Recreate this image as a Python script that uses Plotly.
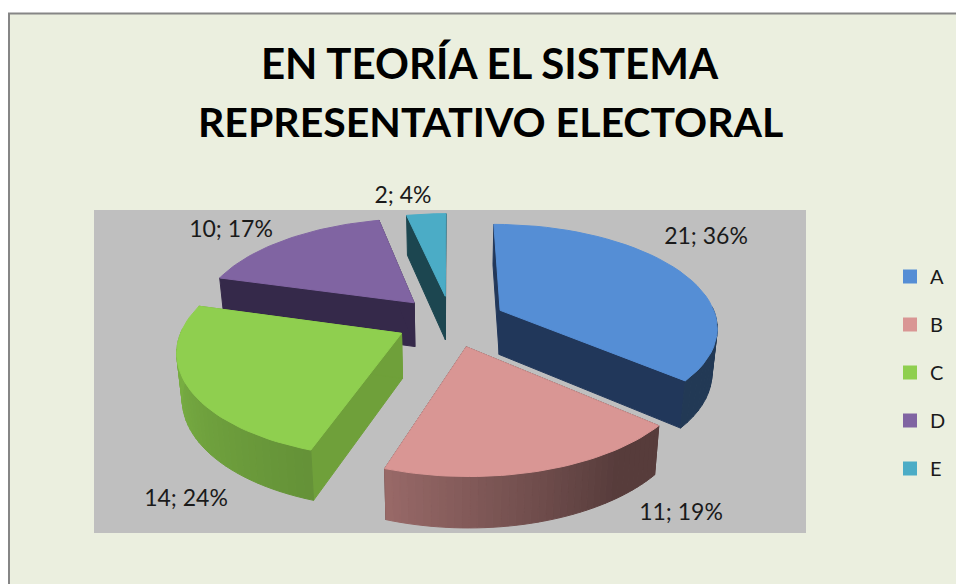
import numpy as np
import plotly.graph_objects as go

# ---- data ----
CATEGORIES = ["A", "B", "C", "D", "E"]
VALUES = [21, 11, 14, 10, 2]
PERCENT_LABELS = [36, 19, 24, 17, 4]
TITLE_LINES = ["EN TEORÍA EL SISTEMA", "REPRESENTATIVO ELECTORAL"]

# ---- styling ----
TOP_COLORS = ["#558ED5", "#D99694", "#8FCF4F", "#8064A2", "#4BACC6"]
CUT_COLORS = ["#21375A", "#5A3C3C", "#6FA03A", "#35294A", "#1C4650"]
LABEL_X = [706, 681, 186, 231, 403]
LABEL_Y = [238, 514, 500, 231, 197]
DRAW_ORDER = [4, 3, 0, 2, 1]

FIG_W, FIG_H = 956, 584

# projection of the exploded pie on to the page
VX, Y0 = 451.0, 321.0
RADIUS, EXPLODE = 217.0, 55.0
K, TILT = 0.148, 0.469
FONT = "Lato"


def project(wx, wy):
    s = 1.0 / (1.0 - K * wy / 215.0)
    return VX + wx * s, Y0 + TILT * wy * s


def to_bottom(x, y):
    return VX + (x - VX) * 0.98, y + 40 + 0.044 * (y - 217)


def shade(hex_color, f):
    r, g, b = [int(hex_color[i:i + 2], 16) for i in (1, 3, 5)]
    return f"rgb({r * f:.0f},{g * f:.0f},{b * f:.0f})"


def poly(xs, ys, color):
    return go.Scatter(x=list(xs), y=list(ys), mode="lines", fill="toself", fillcolor=color,
                      line=dict(color=color, width=1.0), hoverinfo="skip", showlegend=False)


fractions = np.array(VALUES) / sum(VALUES)
ends = np.cumsum(fractions) * 360.0
starts = ends - fractions * 360.0

fig = go.Figure()

for i in DRAW_ORDER:
    a0, a1 = np.radians(starts[i]), np.radians(ends[i])
    mid = (a0 + a1) / 2
    ax_w, ay_w = EXPLODE * np.sin(mid), -EXPLODE * np.cos(mid)
    th = np.linspace(a0, a1, 41)
    wx = ax_w + RADIUS * np.sin(th)
    wy = ay_w - RADIUS * np.cos(th)
    rx, ry = project(wx, wy)
    apx, apy = project(ax_w, ay_w)
    bx, by = to_bottom(rx, ry)
    abx, aby = to_bottom(apx, apy)

    # the two cut faces
    for k in (0, -1):
        fig.add_trace(poly([apx, rx[k], bx[k], abx, apx],
                           [apy, ry[k], by[k], aby, apy], CUT_COLORS[i]))
    # rim, in short stretches so that the shading can change along it
    deg = np.degrees(th)
    for j in range(len(th) - 1):
        if deg[j + 1] < 88 or deg[j] > 272:
            continue
        f = np.interp((deg[j] + deg[j + 1]) / 2, [145, 198, 260], [0.40, 0.70, 0.84])
        fig.add_trace(poly([rx[j], rx[j + 1], bx[j + 1], bx[j], rx[j]],
                           [ry[j], ry[j + 1], by[j + 1], by[j], ry[j]],
                           shade(TOP_COLORS[i], f)))
    # top face
    fig.add_trace(poly(np.r_[apx, rx, apx], np.r_[apy, ry, apy], TOP_COLORS[i]))

# data labels
fig.add_trace(go.Scatter(
    x=LABEL_X, y=LABEL_Y, mode="text",
    text=[f"{v}; {p}%" for v, p in zip(VALUES, PERCENT_LABELS)],
    textfont=dict(family=FONT, size=23, color="#1a1a1a"),
    textposition="middle center", hoverinfo="skip", showlegend=False))

# legend entries
for name, color in zip(CATEGORIES, TOP_COLORS):
    fig.add_trace(go.Scatter(x=[None], y=[None], mode="markers", name=name, legendgroup=name,
                             marker=dict(symbol="square", size=14, color=color)))

fig.update_layout(
    width=FIG_W, height=FIG_H, margin=dict(l=0, r=0, t=0, b=0),
    paper_bgcolor="white", plot_bgcolor="rgba(0,0,0,0)",
    xaxis=dict(range=[0, FIG_W], visible=False, fixedrange=True),
    yaxis=dict(range=[FIG_H, 0], visible=False, fixedrange=True),
    title=dict(text=TITLE_LINES[0], x=489.5 / FIG_W, xanchor="center",
               y=1 - 64 / FIG_H, yanchor="middle",
               font=dict(family=FONT, size=42, color="black", weight="bold")),
    annotations=[dict(text=TITLE_LINES[1], xref="x", yref="y", x=490, y=121,
                      xanchor="center", yanchor="middle", showarrow=False,
                      font=dict(family=FONT, size=41, color="black", weight="bold"))],
    legend=dict(x=890 / FIG_W, xanchor="left", y=1 - 257 / FIG_H, yanchor="top",
                font=dict(family=FONT, size=20, color="#1a1a1a"),
                tracegroupgap=19, bgcolor="rgba(0,0,0,0)", itemclick=False, itemdoubleclick=False),
    shapes=[
        dict(type="rect", layer="below", xref="x", yref="y", x0=9, y0=13.5, x1=970, y1=600,
             fillcolor="#EBEFDF", line=dict(color="#868686", width=2)),
        dict(type="rect", layer="below", xref="x", yref="y", x0=94, y0=210, x1=806, y1=533,
             fillcolor="#BFBFBF", line=dict(width=0)),
    ],
)
fig.write_html("out.html", config={"displayModeBar": False},
               post_script="document.body.style.margin='0';document.documentElement.style.overflow='hidden';")
